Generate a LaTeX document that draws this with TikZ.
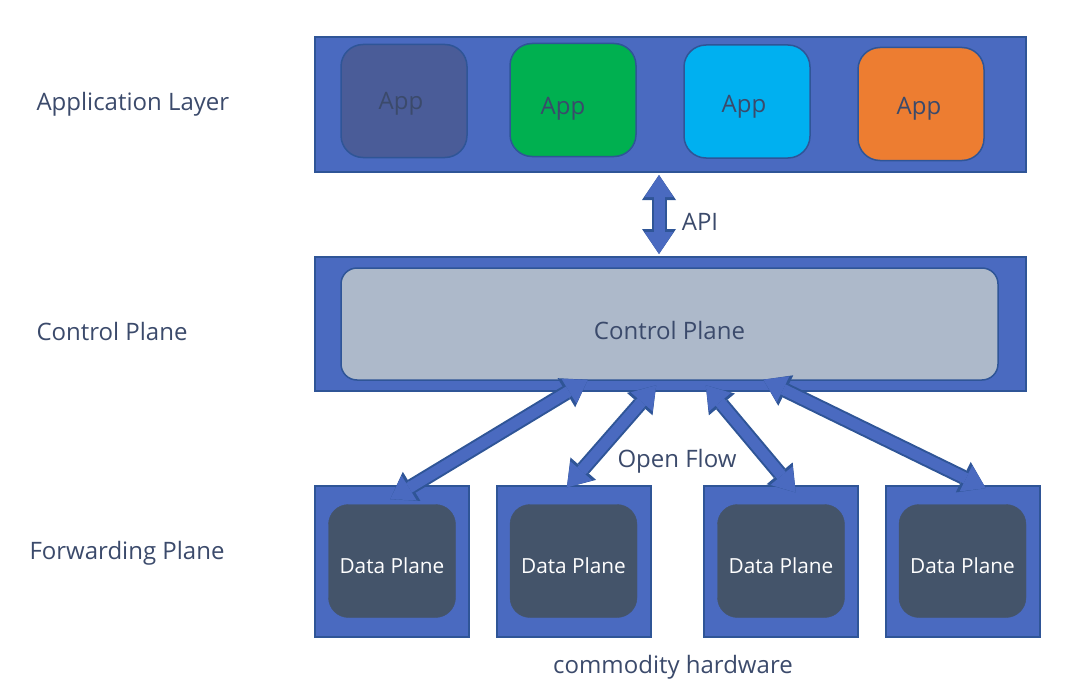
\documentclass[tikz,border=0pt]{standalone}
\usepackage{fontspec}
\setmainfont{Open Sans}
\usetikzlibrary{arrows.meta}
\definecolor{blu}{HTML}{4A6AC0}
\definecolor{bdr}{HTML}{2F5597}
\definecolor{txt}{HTML}{3B4A6B}
\definecolor{grn}{HTML}{00B050}
\definecolor{cya}{HTML}{00B0F0}
\definecolor{ora}{HTML}{ED7D31}
\definecolor{gry}{HTML}{ADB9CA}
\definecolor{drk}{HTML}{44546A}
\definecolor{pat}{HTML}{4A5C98}
\begin{document}
\begin{tikzpicture}[x=1pt,y=-1pt,
		lbl/.style={text=txt,font=\fontsize{24}{28}\selectfont},
		vo/.style={draw=bdr,line width=2pt,fill=blu,inner sep=0pt},
		app/.style={vo,line width=1.5pt,rounded corners=22pt,minimum width=126pt,minimum height=113pt,lbl,
			text height=22pt,text depth=0pt},
		dp/.style={draw=drk,fill=drk,rounded corners=20pt,minimum width=127pt,minimum height=113pt,inner sep=0pt,
			text=white,font=\fontsize{20.8}{24}\selectfont,text height=24pt,text depth=0pt},
		kep/.style={preaction={draw=bdr,line width=15pt,
				{Triangle[length=25pt,width=34pt,line width=0pt]}-{Triangle[length=25pt,width=34pt,line width=0pt]}},
			draw=blu,line width=11pt,shorten >=2pt,shorten <=2pt,
			{Triangle[length=22pt,width=29pt,line width=0pt]}-{Triangle[length=22pt,width=29pt,line width=0pt]}}]
	\useasboundingbox (0,0) rectangle (1069,693);
	
	%------------application layer
	\node[vo,minimum width=711pt,minimum height=135pt] (al) at (670.5,104.5) {};
	\node[app,fill=pat,text height=18pt] (a1) at (404,101) {App\kern6pt};
	\node[app,fill=grn,text height=28pt] (a2) at (573,100) {App\kern20pt};
	\node[app,fill=cya] (a3) at (747,101.5) {App\kern6pt};
	\node[app,fill=ora,text height=20pt] (a4) at (921,104) {App\kern4pt};
	
	%------------control plane
	\node[vo,minimum width=711pt,minimum height=134pt] (cpo) at (670.5,324) {};
	\node[draw=bdr,line width=1.5pt,fill=gry,rounded corners=16pt,minimum width=657pt,minimum height=112pt,
		inner sep=0pt,lbl,text height=30pt,text depth=0pt] (cp) at (669.5,324) {Control Plane};
	
	%------------forwarding plane
	\foreach \i/\x in {1/392,2/573.5,3/781,4/962.5}{
		\node[vo,minimum width=154pt,minimum height=151pt] (fw\i) at (\x,561.5) {};
		\node[dp] (d\i) at (\x,561) {Data Plane};
	}
	
	%------------nhan
	\node[lbl,anchor=west] (tal) at (33,104) {Application Layer};
	\node[lbl,anchor=west] (tcp) at (33,331) {Control Plane};
	\node[lbl,anchor=west] (tfw) at (26,553) {Forwarding Plane};
	\node[lbl] (api) at (700,222) {API};
	\node[lbl] (of) at (677,461) {Open Flow};
	\node[lbl] (hw) at (673,667) {commodity hardware};
	
	%------------mui ten
	\draw[kep] ([xshift=-11.5pt]al.south) -- ([xshift=-11.5pt]cpo.north);
	\draw[kep] ([xshift=-80pt,yshift=2pt]cp.south) -- ([xshift=-3.5pt,yshift=4pt]d1.north);
	\draw[kep] ([xshift=-12pt,yshift=-3pt]cp.south) -- ([xshift=-8pt,yshift=-4pt]fw2.north);
	\draw[kep] ([xshift=35pt,yshift=-3pt]cp.south) -- ([xshift=16pt,yshift=-9pt]fw3.north);
	\draw[kep] ([xshift=92pt,yshift=2pt]cp.south) -- ([xshift=25pt,yshift=-4pt]fw4.north);
\end{tikzpicture}
\end{document}
